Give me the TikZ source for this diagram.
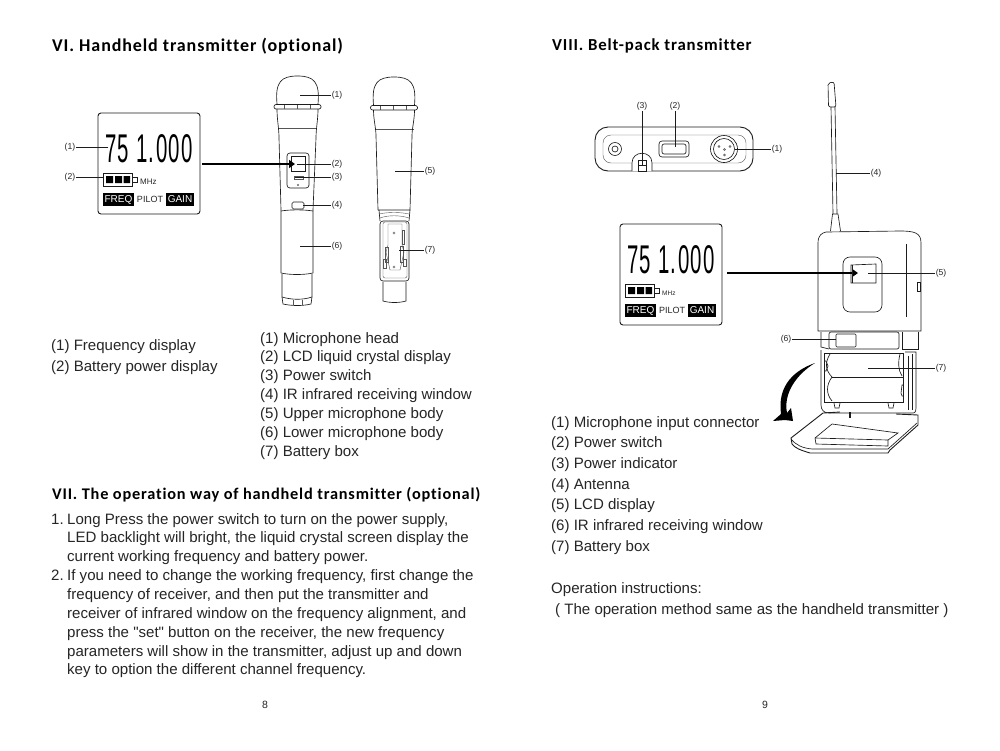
\documentclass[tikz,border=0pt]{standalone}
\usepackage{fontspec}
\setmainfont{Liberation Sans}
\newfontfamily\plainq{Liberation Sans}
\newfontfamily\headfont[LetterSpace=5,Ligatures={NoCommon,NoDiscretionary}]{Carlito}
\newfontfamily\lcdfont[LetterSpace=7]{Liberation Sans}
\usetikzlibrary{arrows.meta}
\definecolor{ink}{HTML}{1C1C1C}
\definecolor{txt}{HTML}{262626}
\tikzset{
  x=1pt,y=-1pt,
  art/.style={draw=ink,line width=.65pt},
  thinart/.style={draw=ink!75,line width=.4pt},
  lbl/.style={font=\fontsize{8.6}{10}\selectfont,text=txt,inner sep=1pt},
  ldrline/.style={draw=ink,line width=.55pt},
  bigarrow/.style={draw=black,line width=2.4pt,-{Triangle[length=6pt,width=8pt]}},
  head/.style={text=black,anchor=west,inner sep=0pt},
  body/.style={font=\fontsize{15.05}{18.85}\selectfont,text=txt,anchor=north west,align=left,inner sep=0pt},
  lcdtag/.style={fill=black,text=white,font=\fontsize{10}{11}\selectfont,inner sep=0pt,minimum height=13pt},
  pagenum/.style={font=\fontsize{10.5}{12}\selectfont,text=txt,inner sep=0pt},
}
\newcommand{\hd}[1]{\headfont\bfseries\fontsize{#1}{20}\selectfont}
\newcommand{\ldr}[4]{\node[lbl] (#1) at (#3) {#4}; \coordinate (#1s) at (#2); \draw[ldrline] (#1s) -- (#1);}
\newcommand{\lcdpanel}[2]{%
  \node[draw=ink,line width=.9pt,rounded corners=3pt,minimum width=102pt,minimum height=101pt,inner sep=0pt] (#1box) at (149,163.5) {};
  \node[inner sep=0pt] (#1num) at (149,148.5) {\resizebox{88pt}{28pt}{\lcdfont\fontsize{40}{40}\selectfont 75 1.000}};
  \draw[ink,line width=.9pt] (103,173.5) rectangle (132,186) (132,177) -- (137,177) -- (137,182) -- (132,182);
  \fill[black] (106,176) rectangle (113,183) (115,176) rectangle (122,183) (123.5,176) rectangle (130,183);
  \node[text=txt,inner sep=0pt,anchor=west,font=\fontsize{#2}{9}\selectfont] (#1mhz) at (140,182) {MHz};
  \node[lcdtag,minimum width=31pt] (#1freq) at (118.5,199.5) {FREQ};
  \node[text=txt,inner sep=0pt,font=\fontsize{9}{11}\selectfont] (#1pilot) at (150,199.5) {PILOT};
  \node[lcdtag,minimum width=28pt] (#1gain) at (180,199.5) {GAIN};
}
\newcommand{\michead}{%
  \draw[art] (277,104) .. controls (275,82) and (281,76) .. (297.5,76) .. controls (314,76) and (320,82) .. (318,104);
  \draw[art,rounded corners=2pt,fill=white] (274,104.5) rectangle (321,109);
  \draw[thinart] (284,105) -- (284,108.5) (297,105) -- (297,108.5) (310,105) -- (310,108.5);
  \draw[thinart] (278,128) -- (317,128);
}
\newcommand{\itm}[1]{\makebox[16pt][l]{#1}}
\begin{document}
\begin{tikzpicture}
\useasboundingbox (0,0) rectangle (1000,750);
\fill[white] (0,0) rectangle (1000,750);

%% ---- left page
\node[head,font=\hd{18}] (h6) at (52,46) {VI. Handheld transmitter (optional)};

\begin{scope}\lcdpanel{a}{8}\end{scope}
\ldr{la1}{108,147}{70,147}{(1)}
\ldr{la2}{103,177}{70,177}{(2)}

% first microphone
\michead
\draw[art] (277,109) .. controls (277,120) and (279,128) .. (279,138) -- (281,210) -- (281,273);
\draw[art] (318,109) .. controls (318,120) and (316,128) .. (316,138) -- (313,210) -- (313,273);
\draw[art] (281,273) .. controls (290,275) and (304,275) .. (313,273);
\draw[art] (281,211) .. controls (290,209.5) and (304,209.5) .. (313,211);
\draw[art] (282,274) -- (282,297) -- (283,304) .. controls (292,306) and (303,306) .. (311,304) -- (312,297) -- (312,274);
\draw[art] (282,297) .. controls (292,300) and (303,300) .. (312,297);
\draw[thinart] (293,300) -- (293,305) (302,300) -- (302,305);
\draw[art,rounded corners=3pt] (287,153) rectangle (309,188);
\draw[art] (291,156) rectangle (305,171);
\draw[thinart] (294,176) rectangle (303,179.5);
\draw[thinart] (298,185) circle (.9);
\draw[art,rounded corners=1.5pt] (292,202) rectangle (304,209);
\ldr{lb1}{300,95}{337,95}{(1)}
\ldr{lb2}{297,164}{337,164}{(2)}
\ldr{lb3}{295,177}{337,177}{(3)}
\ldr{lb4}{303,205.5}{337,205.5}{(4)}
\ldr{lb6}{300,246}{337,246}{(6)}
\coordinate (arrAs) at (202,164);
\coordinate (arrAe) at (295,164);
\draw[bigarrow] (arrAs) -- (arrAe);

% second microphone
\begin{scope}[shift={(96.5,1)}]\michead\end{scope}
\draw[art] (373.5,110) .. controls (373.5,120) and (376,128) .. (376,136) -- (378,210);
\draw[art] (414.5,110) .. controls (414.5,120) and (412,128) .. (412,136) -- (410,210);
\draw[art] (378,210) -- (410,210) (379,210) -- (380,221) (409,221) -- (410,210);
\draw[thinart] (379,214) .. controls (388,212) and (400,212) .. (409,214) (380,218) .. controls (388,215) and (400,215) .. (409,218);
\draw[art,rounded corners=3pt] (380,221) rectangle (409,281);
\draw[thinart,rounded corners=2pt] (383,222) rectangle (407,278);
\draw[thinart] (388,224) -- (402,224) -- (402,245) -- (404,252) -- (400,270) -- (390,270) -- (386,252) -- (388,245) -- cycle;
\draw[thinart] (385,247) rectangle (388,262) (400,246) rectangle (403,262) (402,230) rectangle (404,244) (383,259) rectangle (386,268) (403,259) rectangle (406,266);
\draw[thinart] (394,233) circle (1.2) (394,267) circle (1.2);
\draw[art] (383,282) -- (383,301) .. controls (390,303) and (399,303) .. (406,301) -- (406,282);
\ldr{lc5}{395,171}{430,171}{(5)}
\ldr{lc7}{399,250}{430,250}{(7)}

\node[body] (lista) at (51,339) {(1) Frequency display\\[2.1pt](2) Battery power display};
\node[body] (listb) at (260,332) {(1) Microphone head\\(2) LCD liquid crystal display\\(3) Power switch\\(4) IR infrared receiving window\\(5) Upper microphone body\\(6) Lower microphone body\\(7) Battery box};
\node[head,font=\hd{16.3}] (h7) at (52,495) {VII. The operation way of handheld transmitter (optional)};
\node[body] (para) at (51,513) {\itm{1.}Long Press the power switch to turn on the power supply,\\
\hspace*{16pt}LED backlight will bright, the liquid crystal screen display the\\
\hspace*{16pt}current working frequency and battery power.\\
\itm{2.}If you need to change the working frequency, first change the\\
\hspace*{16pt}frequency of receiver, and then put the transmitter and\\
\hspace*{16pt}receiver of infrared window on the frequency alignment, and\\
\hspace*{16pt}press the {\plainq"}set{\plainq"} button on the receiver, the new frequency\\
\hspace*{16pt}parameters will show in the transmitter, adjust up and down\\
\hspace*{16pt}key to option the different channel frequency.};
\node[pagenum] (p8) at (265,705) {8};

%% ---- right page
\node[head,font=\hd{16.8}] (h8) at (552,46) {VIII. Belt-pack transmitter};

% top view of the belt pack
\draw[art,line width=.9pt,rounded corners=13pt] (595,127) rectangle (753,171);
\draw[thinart,rounded corners=8pt] (603,135) rectangle (746,163);
\draw[art] (615,149) circle (6.5) (615,149) circle (3);
\draw[art,rounded corners=3pt] (659,141) rectangle (689,157);
\draw[art,rounded corners=2pt] (662,144) rectangle (686,154);
\draw[art,fill=white] (632,171) -- (632,163) .. controls (632,150) and (652,150) .. (652,163) -- (652,171);
\draw[art,line width=.9pt] (638,171) -- (638,160) -- (646,160) -- (646,171) -- cycle (638,165) -- (646,165);
\draw[art] (724,149) circle (13.5) (724,149) circle (10.5);
\draw[thinart] (719,146.5) circle (1) (730,146.5) circle (1) (724.5,149.5) circle (1) (724.5,155) circle (1);
\ldr{ld3}{642,165}{642,106}{(3)}
\ldr{ld2}{675,147}{675,106}{(2)}
\ldr{ld1}{735,149}{777,149}{(1)}

\begin{scope}[shift={(522,111)}]\lcdpanel{b}{6.5}\end{scope}

% antenna
\draw[art,rounded corners=2pt] (828.5,107) -- (828,83) -- (834,82) -- (836,107) -- cycle;
\draw[art] (831,107) -- (833,214) (835,107) -- (837,214);
\draw[art] (832.5,214) -- (838,214) -- (840.5,231) (832.5,214) -- (830.5,231);
% belt-pack body
\draw[art,fill=white] (818,243) .. controls (818,235) and (822,233) .. (826,232) -- (900,231) .. controls (915,231) and (921,233) .. (921,243) -- (921,331) -- (818,331) -- cycle;
\draw[art] (906,244) -- (906,317);
\draw[art] (917,282) rectangle (920,291);
\draw[art,rounded corners=7pt] (843,257) rectangle (882,312);
\draw[art] (851,265) -- (876,264) -- (876,283) -- (851,283) -- cycle;
\ldr{le5}{868,273}{941,273}{(5)}
\coordinate (arrBs) at (727,273);
\coordinate (arrBe) at (858,273);
\draw[bigarrow] (arrBs) -- (arrBe);
\draw[art,line width=1pt] (852,265) -- (852,283);

% IR strip
\draw[art,rounded corners=2pt] (829,332) rectangle (899,349);
\draw[art,rounded corners=1pt] (836,334) rectangle (856,347);
\draw[art] (821,332) -- (821,347) -- (829,349);
\draw[art] (902,332) -- (902,349) -- (918,349) -- (918,332);
\ldr{le6}{836,339}{786,339}{(6)}

% battery bay
\draw[art] (821,350) -- (821,405) .. controls (821,410) and (824,413) .. (829,413);
\draw[art] (829,413) -- (913,413) .. controls (916,413) and (916,410) .. (916,405) -- (916,352) -- (905,352);
\draw[art,line width=.9pt] (824,353) rectangle (903,402);
\draw[art] (908,356) -- (908,410) (912,354) -- (912,410);
\draw[art] (832,377) -- (903,377);
\draw[art] (830,354) .. controls (825,362) and (825,370) .. (832,377) .. controls (826,385) and (826,394) .. (832,401);
\draw[art] (900,354) .. controls (898,362) and (898,370) .. (902,376);
\draw[art] (824,361) -- (826,361) -- (828,366) -- (826,371) -- (824,371);
\draw[art] (903,385) -- (902,385) -- (901,393) -- (902,396) -- (903,396);
\draw[art] (834,403) -- (835,408) -- (839,408) -- (840,403) (888,403) -- (889,408) -- (893,408) -- (894,403);
\ldr{le7}{868,368}{941,368}{(7)}

% open lid
\draw[art,line width=.9pt] (823,413) -- (840,412) (896,414) -- (918,415) -- (918,425) -- (890,450) -- (888,453) -- (810,453) .. controls (800,450) and (795,448) .. (792,444) -- (791,438) -- (823,413);
\draw[art] (791,439) .. controls (796,445) and (802,448) .. (812,449) -- (888,449) -- (917,423);
\draw[art] (815,438) -- (832,424) -- (898,433) -- (888,440) -- (888,446) -- (816,444) -- cycle;
\draw[art] (815,438) -- (888,440);
\draw[art] (849,412) -- (849,418) (850,412) -- (850,418);

% swing arrow
\fill[black] (815,363) .. controls (795,370) and (777,385) .. (781,414) -- (773,421) -- (785,420) -- (793,421) -- (791,408) -- (787,413) .. controls (783,393) and (797,374) .. (815,363) -- cycle;

\node[body,font=\fontsize{15.05}{20.7}\selectfont] (listc) at (551,416) {(1) Microphone input connector\\(2) Power switch\\(3) Power indicator\\(4) Antenna\\(5) LCD display\\(6) IR infrared receiving window\\(7) Battery box};
\node[body] (ophead) at (551,582.5) {Operation instructions:};
\node[body] (opnote) at (555,603.5) {( The operation method same as the handheld transmitter )};
\node[pagenum] (p9) at (765,705) {9};
\ldr{le4}{836,173}{876,173}{(4)}
\end{tikzpicture}
\end{document}
